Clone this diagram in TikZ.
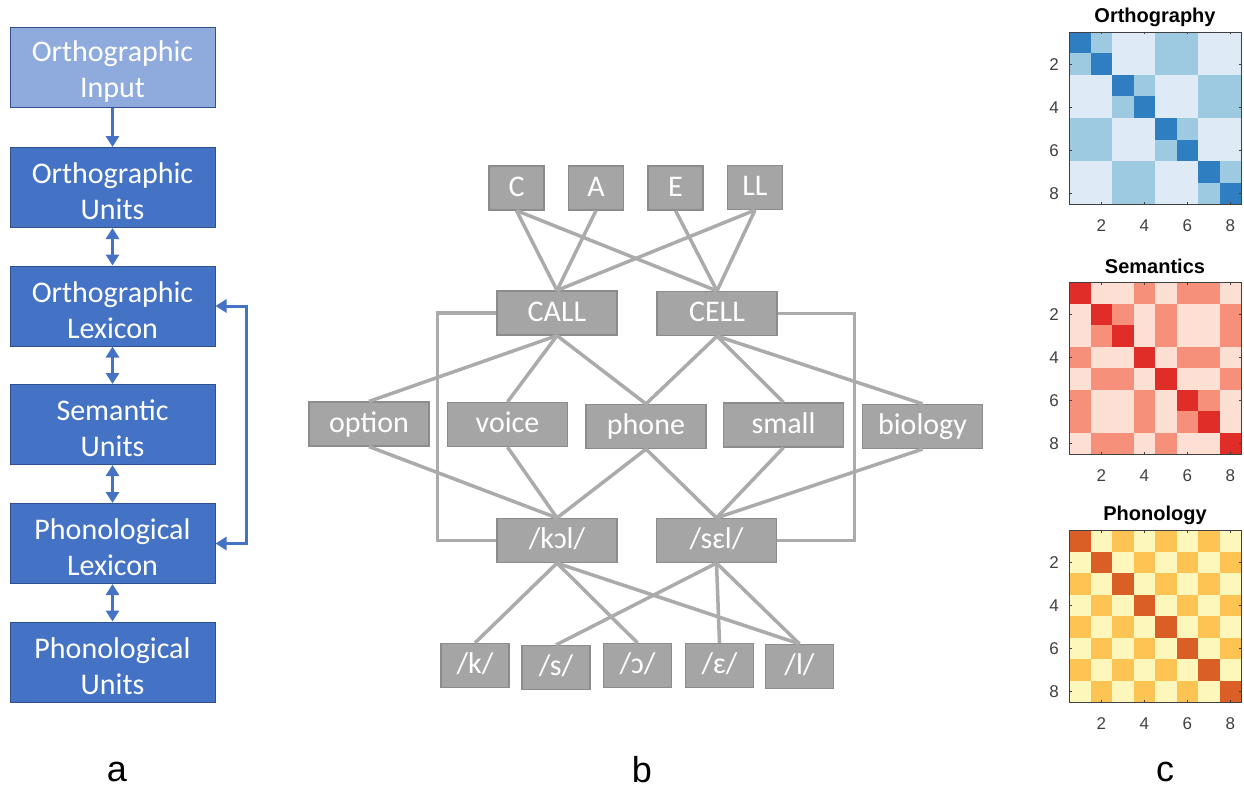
\documentclass[tikz,border=0pt]{standalone}
\usepackage{fontspec}
\setmainfont{Carlito}
\newfontfamily\hv{Liberation Sans}
\usetikzlibrary{arrows.meta}
\definecolor{bluefill}{HTML}{4472C4}
\definecolor{blueline}{HTML}{2F528F}
\definecolor{lightblue}{HTML}{8FAADC}
\definecolor{gfill}{HTML}{A5A5A5}
\definecolor{gline}{HTML}{8C8C8C}
\definecolor{connc}{HTML}{ABABAB}
\definecolor{axc}{HTML}{404040}
\definecolor{orth0}{HTML}{DEEBF7}
\definecolor{orth1}{HTML}{9ECAE1}
\definecolor{orth2}{HTML}{2E7EC1}
\definecolor{sem0}{HTML}{FDE0D3}
\definecolor{sem1}{HTML}{F6907A}
\definecolor{sem2}{HTML}{E02D28}
\definecolor{pho0}{HTML}{FEF7BC}
\definecolor{pho1}{HTML}{FEC453}
\definecolor{pho2}{HTML}{D95F26}
\tikzset{
  abox/.style={draw=blueline, line width=1pt, fill=bluefill,
    minimum width=205pt, minimum height=80pt, inner sep=0pt},
  abox0/.style={abox, fill=lightblue},
  atext/.style={text=white, inner sep=0pt, align=center, yshift=-4pt,
    font=\fontsize{30}{36}\selectfont},
  barrow/.style={draw=bluefill, line width=3pt, -{Triangle[length=11pt,width=13pt]}},
  dbarrow/.style={draw=bluefill, line width=3pt,
    {Triangle[length=11pt,width=13pt]}-{Triangle[length=11pt,width=13pt]}},
  gbox/.style={draw=gline, line width=1.2pt, fill=gfill, text=white, inner sep=0pt,
    minimum height=44pt, text height=20pt, text depth=4pt,
    font=\fontsize{30}{36}\selectfont},
  letterbox/.style={gbox, minimum width=55pt},
  wordbox/.style={gbox, minimum width=120pt},
  phonbox/.style={gbox, minimum width=68pt},
  conn/.style={draw=connc, line width=3.5pt},
  axframe/.style={draw=axc, line width=0.9pt},
  ticklab/.style={text=axc, inner sep=0pt, font=\hv\fontsize{17}{20}\selectfont},
  mtitle/.style={inner sep=0pt, font=\hv\bfseries\fontsize{20}{24}\selectfont},
  plab/.style={inner sep=0pt, font=\hv\fontsize{36}{40}\selectfont}
}
\newcommand\drawaxes[2]{%
  \draw[axframe] (1069,#1) rectangle ++(172,172);
  \foreach \k in {2,4,6,8}{
    \draw[axframe] ({1069+(\k-0.5)*21.5},#1) -- ++(0,2.5);
    \draw[axframe] ({1069+(\k-0.5)*21.5},#1+172) -- ++(0,-2.5);
    \draw[axframe] (1069,{#1+(\k-0.5)*21.5}) -- ++(2.5,0);
    \draw[axframe] (1241,{#1+(\k-0.5)*21.5}) -- ++(-2.5,0);
    \node[ticklab] (#2-y\k) at (1054,{#1+(\k-0.5)*21.5}) {\k};
    \node[ticklab] (#2-x\k) at ({1069+(\k-0.5)*21.5},{#1+194}) {\k};
  }}
\begin{document}
\begin{tikzpicture}[x=1pt,y=-1pt]
\useasboundingbox[fill=white] (0,0) rectangle (1244,789);

% ---------- panel a ----------
\node[abox0] (a1) at (112.5,68) {};
\node[abox] (a2) at (112.5,187.5) {};
\node[abox] (a3) at (112.5,306) {};
\node[abox] (a4) at (112.5,424.5) {};
\node[abox] (a5) at (112.5,543.5) {};
\node[abox] (a6) at (112.5,662) {};
\node[atext] (a1t) at (a1) {Orthographic\\Input};
\node[atext] (a2t) at (a2) {Orthographic\\Units};
\node[atext] (a3t) at (a3) {Orthographic\\Lexicon};
\node[atext] (a4t) at (a4) {Semantic\\Units};
\node[atext] (a5t) at (a5) {Phonological\\Lexicon};
\node[atext] (a6t) at (a6) {Phonological\\Units};
\draw[barrow] (a1) -- (a2);
\draw[dbarrow] (a2) -- (a3);
\draw[dbarrow] (a3) -- (a4);
\draw[dbarrow] (a4) -- (a5);
\draw[dbarrow] (a5) -- (a6);
\draw[dbarrow] (a3.east) -- ++(31,0) |- (a5.east);

% ---------- panel b ----------
\node[letterbox] (C) at (516.5,188) {C};
\node[letterbox] (A) at (596,188) {A};
\node[letterbox] (E) at (675.5,188) {E};
\node[letterbox] (LL) at (755,187.5) {LL};
\node[wordbox] (CALL) at (557,313) {CALL};
\node[wordbox] (CELL) at (717,313.5) {CELL};
\node[wordbox] (option) at (369,424) {option};
\node[wordbox] (voice) at (507.5,424.5) {voice};
\node[wordbox] (phone) at (646,426.5) {phone};
\node[wordbox] (small) at (783.5,425) {small};
\node[wordbox] (biology) at (922.5,426.5) {biology};
\node[wordbox] (kol) at (557,540.5) {/kɔl/};
\node[wordbox] (sel) at (716.5,540.5) {/sɛl/};
\node[phonbox] (pk) at (475,665.5) {/k/};
\node[phonbox] (ps) at (556,667.5) {/s/};
\node[phonbox] (po) at (637.5,665.5) {/ɔ/};
\node[phonbox] (pe) at (719.5,665.5) {/ɛ/};
\node[phonbox] (pl) at (799.5,666.5) {/l/};

\draw[conn] (C.south) -- (CALL.north);
\draw[conn] (A.south) -- (CALL.north);
\draw[conn] (LL.south) -- (CALL.north);
\draw[conn] (C.south) -- (CELL.north);
\draw[conn] (E.south) -- (CELL.north);
\draw[conn] (LL.south) -- (CELL.north);
\draw[conn] (CALL.south) -- (option.north);
\draw[conn] (CALL.south) -- (voice.north);
\draw[conn] (CALL.south) -- (phone.north);
\draw[conn] (CELL.south) -- (phone.north);
\draw[conn] (CELL.south) -- (small.north);
\draw[conn] (CELL.south) -- (biology.north);
\draw[conn] (option.south) -- (kol.north);
\draw[conn] (voice.south) -- (kol.north);
\draw[conn] (phone.south) -- (kol.north);
\draw[conn] (phone.south) -- (sel.north);
\draw[conn] (small.south) -- (sel.north);
\draw[conn] (biology.south) -- (sel.north);
\draw[conn] (kol.south) -- (pk.north);
\draw[conn] (kol.south) -- (po.north);
\draw[conn] (kol.south) -- (pl.north);
\draw[conn] (sel.south) -- (ps.north);
\draw[conn] (sel.south) -- (pe.north);
\draw[conn] (sel.south) -- (pl.north);
\draw[conn] (CALL.west) -- ++(-59,0) |- (kol.west);
\draw[conn] (CELL.east) -- ++(77,0) |- (sel.east);

% ---------- panel c ----------
\node[mtitle] (t-orth) at (1155,17) {Orthography};
\foreach \i in {1,...,8}{
  \foreach \j in {1,...,8}{
    \pgfmathtruncatemacro\c{\i==\j ? 2 : (mod(int((\i-1)/2),2)==mod(int((\j-1)/2),2) ? 1 : 0)}
    \fill[orth\c] ({1069+(\j-1)*21.5},{32+(\i-1)*21.5}) rectangle ++(21.5,21.5);
  }}
\drawaxes{32}{o}

\node[mtitle] (t-sem) at (1155,266) {Semantics};
\foreach \i in {1,...,8}{
  \foreach \j in {1,...,8}{
    \pgfmathtruncatemacro\gi{(\i==1)||(\i==4)||(\i==6)||(\i==7)}
    \pgfmathtruncatemacro\gj{(\j==1)||(\j==4)||(\j==6)||(\j==7)}
    \pgfmathtruncatemacro\c{\i==\j ? 2 : (\gi==\gj ? 1 : 0)}
    \fill[sem\c] ({1069+(\j-1)*21.5},{282+(\i-1)*21.5}) rectangle ++(21.5,21.5);
  }}
\drawaxes{282}{s}

\node[mtitle] (t-pho) at (1155,515) {Phonology};
\foreach \i in {1,...,8}{
  \foreach \j in {1,...,8}{
    \pgfmathtruncatemacro\c{\i==\j ? 2 : (mod(\i+\j,2)==0 ? 1 : 0)}
    \fill[pho\c] ({1069+(\j-1)*21.5},{530+(\i-1)*21.5}) rectangle ++(21.5,21.5);
  }}
\drawaxes{530}{p}

% ---------- panel letters ----------
\node[plab] (la) at (117,772) {a};
\node[plab] (lb) at (642,770) {b};
\node[plab] (lc) at (1165,772) {c};
\end{tikzpicture}
\end{document}
